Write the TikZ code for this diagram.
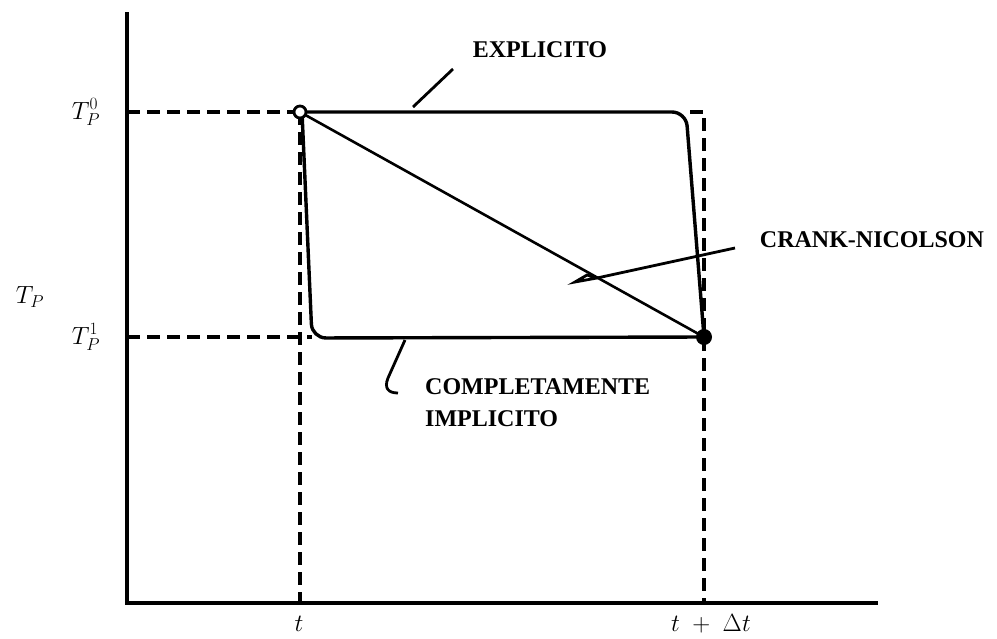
\documentclass[tikz,border=0pt]{standalone}
\usepackage{fontspec}
\setmainfont{Liberation Serif}
\begin{document}
\begin{tikzpicture}[x=1pt,y=-1pt,
  axisline/.style={line width=3.6pt},
  guide/.style={line width=3.2pt,dash pattern=on 13pt off 7pt},
  curve/.style={line width=3.4pt,rounded corners=14pt},
  leader/.style={line width=2.8pt},
  lbl/.style={font=\fontsize{24}{27}\selectfont\bfseries,inner sep=0pt},
  mlbl/.style={font=\fontsize{27}{29}\selectfont,inner sep=0pt}]
\useasboundingbox (0,0) rectangle (997,638);
% axes
\coordinate (O) at (127,603);
\coordinate (ytop) at (127,12);
\coordinate (xend) at (878,603);
\draw[axisline] (ytop) -- (O) -- (xend);
% key points
\coordinate (P0) at (300,112);
\coordinate (P1) at (704,337);
\coordinate (y0) at (127,112);
\coordinate (y1) at (127,337);
\coordinate (xa) at (300,603);
\coordinate (xb) at (704,603);
% guides
\draw[guide] (y0) -- (P0);
\draw[guide] (y1) -- (312,337);
\draw[guide] (P0) -- (xa);
\draw[guide] (690,112) -- (704,112) -- (xb);
% schemes
\draw[curve] (P0) -- (686,112) -- (P1);
\draw[curve] (302,112) -- (312,338) -- (P1);
\draw[line width=2.6pt] (P0) -- (P1);
\node[circle,draw,line width=2.8pt,minimum size=12pt,inner sep=0pt,fill=white] (c0) at (P0) {};
\node[circle,fill,minimum size=16pt,inner sep=0pt] (c1) at (P1) {};
% labels
\node[lbl] (expl) at (540,50) {EXPLICITO};
\node[lbl] (crank) at (872,240) {CRANK-NICOLSON};
\node[lbl,anchor=west] (comp) at (425,387) {COMPLETAMENTE};
\node[lbl,anchor=west] (impl) at (425,419) {IMPLICITO};
% leaders
\draw[leader] (413,107) -- (453,69);
\draw[leader] (735,248) -- (597,278) -- (575,282) -- (587,275) -- (597,278);
\draw[leader] (405,340) -- (388,378) .. controls (384,388) and (388,393) .. (398,393);
% axis labels
\node[mlbl] (t0) at (86,112) {$T_P^0$};
\node[mlbl] (tp) at (30,297) {$T_P$};
\node[mlbl] (t1) at (86,337) {$T_P^1$};
\node[mlbl] (tl) at (299,624) {$t$};
\node[mlbl] (tdl) at (711,624) {$t\;+\;\Delta t$};
\end{tikzpicture}
\end{document}
